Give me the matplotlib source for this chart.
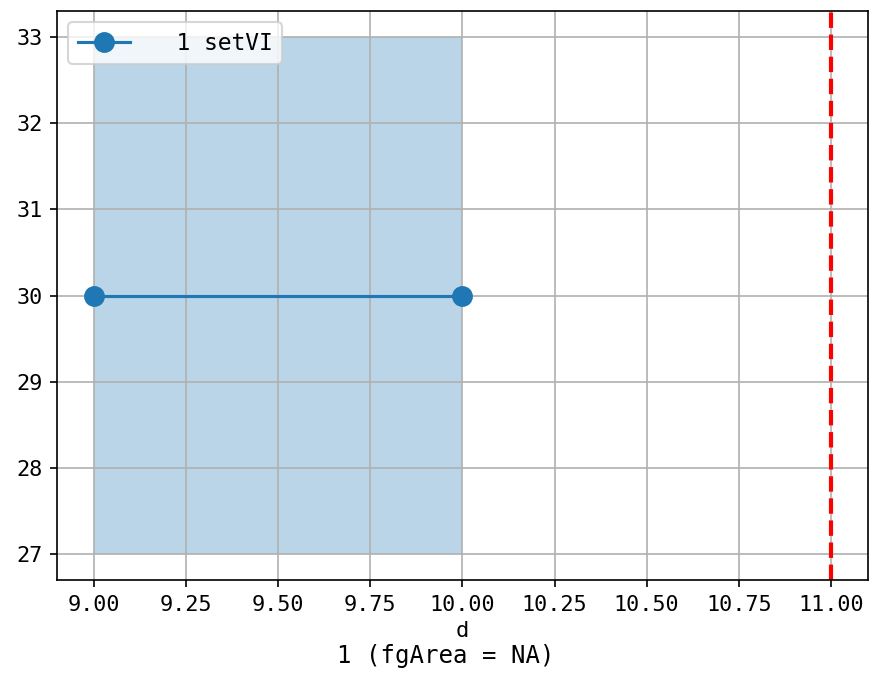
import matplotlib
matplotlib.use("Agg")
import matplotlib.pyplot as plt

# data
d_values = [9.0, 10.0]
set_values = [30, 30]
band_low = [27, 27]
band_high = [33, 33]
limit_d = 11.0
series_label = "  1 setVI"
x_label = "d"
bottom_title = "1 (fgArea = NA)"

plt.rcParams['font.family'] = ['DejaVu Sans Mono', 'DejaVu Sans']
plt.rcParams['font.size'] = 10

fig = plt.figure(figsize=(5.8, 4.6), dpi=150)
ax = fig.add_axes([0.0655, 0.1594, 0.932, 0.8246])

ax.fill_between(d_values, band_low, band_high, color='C0', alpha=0.3, linewidth=0)
ax.plot(d_values, set_values, '-o', color='C0', linewidth=1.5, markersize=9, label=series_label)
ax.axvline(limit_d, color='red', linestyle='--', linewidth=2)

ax.set_xticks([9.0, 9.25, 9.5, 9.75, 10.0, 10.25, 10.5, 10.75, 11.0])
ax.set_xticklabels([f"{v:.2f}" for v in ax.get_xticks()])
ax.tick_params(labelsize=10.5)
ax.set_xlabel(x_label, labelpad=3, fontsize=10.5)
ax.grid(True)
ax.legend(loc='upper left', fontsize=11, handlelength=2.3)

fig.text(446 / 870, 0.05, bottom_title, ha='center', va='center', fontsize=11.5)

fig.savefig("out.png", dpi=150)
